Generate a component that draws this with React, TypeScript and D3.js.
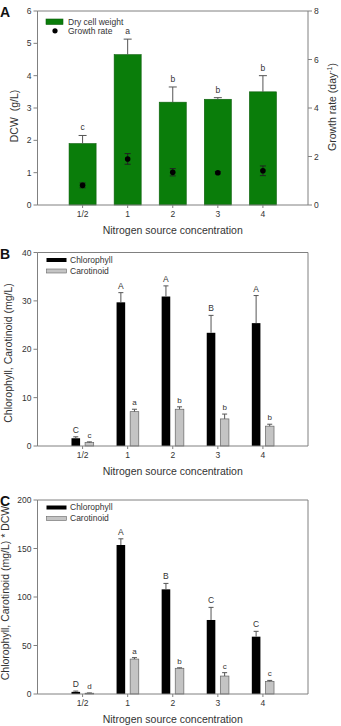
import { scaleLinear, range } from 'd3'

// nitrogen source concentrations on the x axis
const categories = ['1/2', '1', '2', '3', '4']

// panel A: dry cell weight (bars) and growth rate (points)
const dcw = [1.9, 4.65, 3.18, 3.27, 3.5]
const dcwErr = [0.25, 0.48, 0.47, 0.05, 0.5]
const dcwLetters = ['c', 'a', 'b', 'b', 'b']
const growth = [0.81, 1.9, 1.35, 1.33, 1.41]
const growthErr = [0.1, 0.22, 0.15, 0.05, 0.2]

// panel B: pigment concentration (mg/L)
const chlB = [1.6, 29.7, 30.9, 23.4, 25.4]
const chlBErr = [0.3, 2.0, 2.2, 3.6, 5.7]
const chlBLetters = ['C', 'A', 'A', 'B', 'A']
const carB = [0.7, 7.1, 7.6, 5.6, 4.1]
const carBErr = [0.15, 0.5, 0.5, 1.0, 0.4]
const carBLetters = ['c', 'a', 'b', 'b', 'b']

// panel C: pigment concentration * DCW
const chlC = [2.2, 153.6, 107.9, 76.3, 59.1]
const chlCErr = [0.8, 6.4, 6.1, 13, 5.5]
const chlCLetters = ['D', 'A', 'B', 'C', 'C']
const carC = [0.8, 36, 26.5, 18.5, 13]
const carCErr = [0.3, 1.5, 0.5, 3.5, 1]
const carCLetters = ['d', 'a', 'b', 'c', 'c']

const FONT = 'Liberation Sans, Arial, sans-serif'
const AXIS = '#808080'
const TEXT = '#333'
const GREEN = '#0a7d0a'
const GRAY = '#c4c4c4'

const LEFT = 37.5
const RIGHT = 308

// categories sit at 1..5 on a 0..6 axis
const x = scaleLinear().domain([0, 6]).range([LEFT, RIGHT])

interface FrameProps {
  top: number
  bottom: number
  y: d3.ScaleLinear<number, number>
  tickStep: number
  yMax: number
  yLabel: string
  labelY: number
  labelX: number
  letter: string
  boxRight: boolean
}

function Frame({ top, bottom, y, tickStep, yMax, yLabel, labelY, labelX, letter, boxRight }: FrameProps) {
  const ticks = range(0, yMax + tickStep / 2, tickStep)
  return (
    <g>
      {/* plot border */}
      <line x1={LEFT} x2={LEFT} y1={top} y2={bottom} stroke={AXIS} />
      <line x1={LEFT} x2={RIGHT} y1={bottom} y2={bottom} stroke={AXIS} />
      <line x1={LEFT} x2={RIGHT} y1={top} y2={top} stroke={AXIS} />
      {boxRight && <line x1={RIGHT} x2={RIGHT} y1={top} y2={bottom} stroke={AXIS} />}
      {ticks.map((t) => (
        <g key={t}>
          <line x1={LEFT - 4} x2={LEFT} y1={y(t)} y2={y(t)} stroke={AXIS} />
          <text x={LEFT - 6} y={y(t) + 3} textAnchor="end" fontSize={8.5} fill={TEXT}>
            {t}
          </text>
        </g>
      ))}
      {categories.map((c, i) => (
        <g key={c}>
          <line x1={x(i + 1)} x2={x(i + 1)} y1={bottom} y2={bottom + 3} stroke={AXIS} />
          <text x={x(i + 1)} y={bottom + 12} textAnchor="middle" fontSize={8.5} fill={TEXT}>
            {c}
          </text>
        </g>
      ))}
      <text x={(LEFT + RIGHT) / 2} y={bottom + 29} textAnchor="middle" fontSize={10.5} fill={TEXT}>
        Nitrogen source concentration
      </text>
      <text
        transform={`translate(${labelX},${labelY}) rotate(-90)`}
        textAnchor="middle"
        fontSize={10.5}
        fill={TEXT}
      >
        {yLabel}
      </text>
      <text x={0} y={top + 6} fontSize={14} fontWeight="bold" fill="#111">
        {letter}
      </text>
    </g>
  )
}

// one-sided error bar on top of a bar
function ErrUp({ cx, y0, y1, cap, color }: { cx: number; y0: number; y1: number; cap: number; color: string }) {
  return (
    <g stroke={color} strokeWidth={1}>
      <line x1={cx} x2={cx} y1={y0} y2={y1} />
      <line x1={cx - cap / 2} x2={cx + cap / 2} y1={y1} y2={y1} />
    </g>
  )
}

function PanelA() {
  const top = 11
  const bottom = 205
  const y = scaleLinear().domain([0, 6]).range([bottom, top])
  const yR = scaleLinear().domain([0, 8]).range([bottom, top])
  const bw = (x(1) - x(0)) * 0.6
  return (
    <g>
      {dcw.map((v, i) => (
        <rect key={i} x={x(i + 1) - bw / 2} y={y(v)} width={bw} height={bottom - y(v)} fill={GREEN} stroke="#0b5e0b" strokeWidth={0.6} />
      ))}
      {dcw.map((v, i) => (
        <g key={i}>
          <ErrUp cx={x(i + 1)} y0={y(v)} y1={y(v + dcwErr[i])} cap={8} color="#555" />
          <text x={x(i + 1)} y={y(v + dcwErr[i]) - 5} textAnchor="middle" fontSize={8.5} fill={TEXT}>
            {dcwLetters[i]}
          </text>
        </g>
      ))}
      {growth.map((v, i) => (
        <g key={i}>
          <g stroke="#222">
            <line x1={x(i + 1)} x2={x(i + 1)} y1={yR(v - growthErr[i])} y2={yR(v + growthErr[i])} />
            <line x1={x(i + 1) - 3} x2={x(i + 1) + 3} y1={yR(v - growthErr[i])} y2={yR(v - growthErr[i])} />
            <line x1={x(i + 1) - 3} x2={x(i + 1) + 3} y1={yR(v + growthErr[i])} y2={yR(v + growthErr[i])} />
          </g>
          <circle cx={x(i + 1)} cy={yR(v)} r={2.8} fill="#000" />
        </g>
      ))}
      <Frame top={top} bottom={bottom} y={y} tickStep={1} yMax={6} yLabel={'DCW\u00a0 (g/L)'} labelY={116} labelX={18} letter="A" boxRight={false} />
      {/* right axis: growth rate */}
      <line x1={RIGHT} x2={RIGHT} y1={top} y2={bottom} stroke={AXIS} />
      {yR.ticks(4).map((t) => (
        <g key={t}>
          <line x1={RIGHT} x2={RIGHT + 4} y1={yR(t)} y2={yR(t)} stroke={AXIS} />
          <text x={RIGHT + 6} y={yR(t) + 3} fontSize={8.5} fill={TEXT}>
            {t}
          </text>
        </g>
      ))}
      <text transform={`translate(336,${(top + bottom) / 2 - 1}) rotate(-90)`} textAnchor="middle" fontSize={10.5} fill={TEXT}>
        Growth rate (day<tspan dy={-4} fontSize={7}>-1</tspan><tspan dy={4}>)</tspan>
      </text>
      {/* legend */}
      <rect x={46} y={19} width={17} height={5.5} fill={GREEN} stroke="#0b5e0b" strokeWidth={0.6} />
      <text x={68} y={24.5} fontSize={8.5} fill={TEXT}>Dry cell weight</text>
      <circle cx={55} cy={30.8} r={2.6} fill="#000" />
      <text x={68} y={34} fontSize={8.5} fill={TEXT}>Growth rate</text>
    </g>
  )
}

interface PigmentProps {
  top: number
  bottom: number
  yMax: number
  tickStep: number
  chl: number[]
  chlErr: number[]
  chlLetters: string[]
  car: number[]
  carErr: number[]
  carLetters: string[]
  yLabel: string
  labelX: number
  labelY: number
  letter: string
}

function PigmentPanel(p: PigmentProps) {
  const y = scaleLinear().domain([0, p.yMax]).range([p.bottom, p.top])
  const bw = 8.6
  const off = 6.8
  return (
    <g>
      {p.chl.map((v, i) => {
        const cx = x(i + 1) - off
        return (
          <g key={'c' + i}>
            <rect x={cx - bw / 2} y={y(v)} width={bw} height={p.bottom - y(v)} fill="#000" />
            <ErrUp cx={cx} y0={y(v)} y1={y(v + p.chlErr[i])} cap={5} color="#555" />
            <text x={cx} y={y(v + p.chlErr[i]) - 4} textAnchor="middle" fontSize={8.5} fill={TEXT}>
              {p.chlLetters[i]}
            </text>
          </g>
        )
      })}
      {p.car.map((v, i) => {
        const cx = x(i + 1) + off
        return (
          <g key={'k' + i}>
            <rect x={cx - bw / 2} y={y(v)} width={bw} height={p.bottom - y(v)} fill={GRAY} stroke="#666" strokeWidth={0.7} />
            <ErrUp cx={cx} y0={y(v)} y1={y(v + p.carErr[i])} cap={5} color="#555" />
            <text x={cx} y={y(v + p.carErr[i]) - 4} textAnchor="middle" fontSize={8} fill={TEXT}>
              {p.carLetters[i]}
            </text>
          </g>
        )
      })}
      <Frame
        top={p.top}
        bottom={p.bottom}
        y={y}
        tickStep={p.tickStep}
        yMax={p.yMax}
        yLabel={p.yLabel}
        labelY={p.labelY}
        labelX={p.labelX}
        letter={p.letter}
        boxRight={true}
      />
      {/* legend */}
      <rect x={46.5} y={p.top + 5.5} width={20} height={4} fill="#000" />
      <text x={70} y={p.top + 10} fontSize={8.5} fill={TEXT}>Chlorophyll</text>
      <rect x={46.5} y={p.top + 16.5} width={20} height={4} fill={GRAY} stroke="#666" strokeWidth={0.6} />
      <text x={70} y={p.top + 21} fontSize={8.5} fill={TEXT}>Carotinoid</text>
    </g>
  )
}

export default function App() {
  return (
    <svg
      width={341}
      height={726}
      viewBox="0 0 341 726"
      style={{ position: 'absolute', left: 0, top: 0, display: 'block', background: '#fff' }}
      fontFamily={FONT}
    >
      <PanelA />
      <PigmentPanel
        top={252.5}
        bottom={446}
        yMax={40}
        tickStep={10}
        chl={chlB}
        chlErr={chlBErr}
        chlLetters={chlBLetters}
        car={carB}
        carErr={carBErr}
        carLetters={carBLetters}
        yLabel="Chlorophyll, Carotinoid (mg/L)"
        labelX={12}
        labelY={353}
        letter="B"
      />
      <PigmentPanel
        top={500}
        bottom={694}
        yMax={200}
        tickStep={50}
        chl={chlC}
        chlErr={chlCErr}
        chlLetters={chlCLetters}
        car={carC}
        carErr={carCErr}
        carLetters={carCLetters}
        yLabel="Chlorophyll, Carotinoid (mg/L) * DCW"
        labelX={9}
        labelY={593}
        letter="C"
      />
    </svg>
  )
}
